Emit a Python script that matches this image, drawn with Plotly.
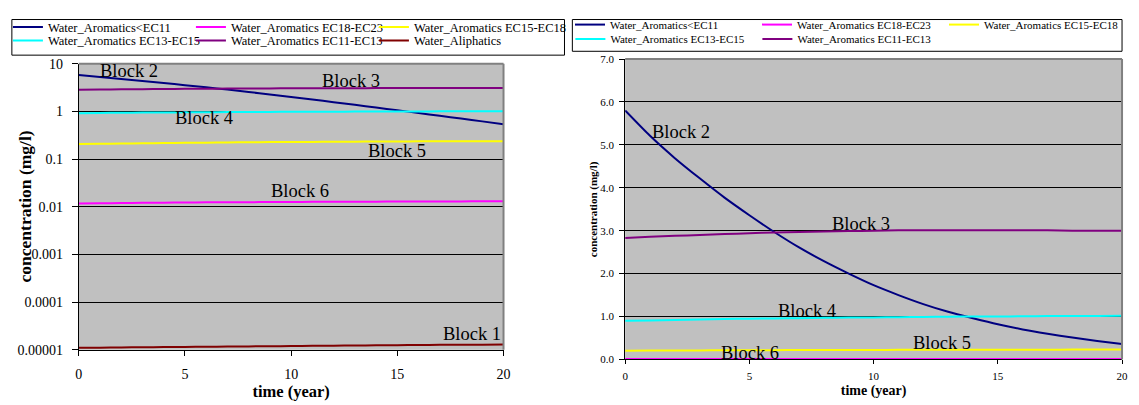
import math
import plotly.graph_objects as go

W, H = 1139, 405

years = list(range(0, 21))

series_names = [
    "Water_Aromatics<EC11",
    "Water_Aromatics EC18-EC23",
    "Water_Aromatics EC15-EC18",
    "Water_Aromatics EC13-EC15",
    "Water_Aromatics EC11-EC13",
    "Water_Aliphatics",
]
series_colors = ["#000080", "#FF00FF", "#FFFF00", "#00FFFF", "#800080", "#800000"]

# Left panel: concentrations on a log axis (mg/l)
left_lt_ec11 = [5.80, 5.27, 4.79, 4.35, 3.94, 3.57, 3.22, 2.88, 2.56, 2.28, 2.02,
                1.78, 1.57, 1.38, 1.21, 1.06, 0.93, 0.81, 0.71, 0.62, 0.54]
left_ec18_ec23 = [0.0118, 0.0119, 0.0120, 0.0121, 0.0122, 0.0123, 0.0124, 0.0124, 0.0125, 0.0126, 0.0126,
                  0.0127, 0.0127, 0.0128, 0.0128, 0.0129, 0.0129, 0.0130, 0.0130, 0.0131, 0.0131]
left_ec15_ec18 = [0.207, 0.210, 0.213, 0.215, 0.218, 0.220, 0.222, 0.224, 0.226, 0.228, 0.229,
                  0.230, 0.232, 0.233, 0.234, 0.235, 0.236, 0.236, 0.237, 0.237, 0.238]
left_ec13_ec15 = [0.92, 0.93, 0.94, 0.95, 0.955, 0.96, 0.965, 0.97, 0.975, 0.98, 0.985,
                  0.99, 0.99, 0.995, 1.0, 1.0, 1.0, 1.005, 1.005, 1.01, 1.01]
left_ec11_ec13 = [2.85, 2.88, 2.91, 2.94, 2.96, 2.98, 3.00, 3.02, 3.03, 3.05, 3.06,
                  3.07, 3.08, 3.08, 3.09, 3.09, 3.10, 3.10, 3.10, 3.10, 3.10]
left_aliphatics = [1.10e-5, 1.11e-5, 1.12e-5, 1.13e-5, 1.14e-5, 1.15e-5, 1.16e-5, 1.17e-5, 1.18e-5, 1.19e-5, 1.20e-5,
                   1.21e-5, 1.22e-5, 1.23e-5, 1.24e-5, 1.25e-5, 1.26e-5, 1.27e-5, 1.27e-5, 1.28e-5, 1.29e-5]

# Right panel: concentrations on a linear axis (mg/l)
right_lt_ec11 = [5.80, 5.21, 4.69, 4.22, 3.77, 3.36, 2.97, 2.61, 2.29, 2.00, 1.73,
                 1.50, 1.29, 1.11, 0.96, 0.82, 0.70, 0.60, 0.51, 0.43, 0.36]
right_ec18_ec23 = [0.0118, 0.0119, 0.0120, 0.0121, 0.0122, 0.0123, 0.0124, 0.0124, 0.0125, 0.0126, 0.0126,
                   0.0127, 0.0127, 0.0128, 0.0128, 0.0129, 0.0129, 0.0130, 0.0130, 0.0131, 0.0131]
right_ec15_ec18 = [0.205, 0.207, 0.209, 0.211, 0.213, 0.215, 0.217, 0.218, 0.220, 0.221, 0.222,
                   0.223, 0.224, 0.225, 0.226, 0.227, 0.228, 0.228, 0.229, 0.229, 0.230]
right_ec13_ec15 = [0.90, 0.91, 0.92, 0.93, 0.94, 0.95, 0.955, 0.96, 0.97, 0.975, 0.98,
                   0.985, 0.99, 0.995, 1.0, 1.0, 1.005, 1.01, 1.01, 1.015, 1.02]
right_ec11_ec13 = [2.83, 2.86, 2.88, 2.90, 2.92, 2.94, 2.96, 2.97, 2.98, 2.99, 3.00,
                   3.01, 3.01, 3.01, 3.01, 3.01, 3.01, 3.01, 3.00, 3.00, 3.00]

left_series = [left_lt_ec11, left_ec18_ec23, left_ec15_ec18, left_ec13_ec15, left_ec11_ec13, left_aliphatics]
right_series = [right_lt_ec11, right_ec18_ec23, right_ec15_ec18, right_ec13_ec15, right_ec11_ec13]

log_tick_values = [1e-5, 1e-4, 1e-3, 1e-2, 1e-1, 1, 10]
log_tick_labels = ["0.00001", "0.0001", "0.001", "0.01", "0.1", "1", "10"]
time_ticks = [0, 5, 10, 15, 20]

block_labels_left = ["Block 1", "Block 2", "Block 3", "Block 4", "Block 5", "Block 6"]
block_pos_left = [(18.5, 2.1e-5), (2.36, 6.9), (12.8, 4.3), (5.9, 0.72), (15.0, 0.148), (10.4, 0.021)]
block_labels_right = ["Block 2", "Block 3", "Block 4", "Block 5", "Block 6"]
block_pos_right = [(2.23, 5.30), (9.5, 3.16), (7.33, 1.13), (12.75, 0.38), (5.03, 0.16)]

SERIF = "Liberation Serif"


def px_x(p):
    return p / W


def px_y(p):
    return 1 - p / H


fig = go.Figure()

# left legend: two rows of three entries; the third column gets a wider slot
left_legends = ["legend", "legend", "legend", "legend2", "legend2", "legend2"]
left_slots = [138, 138, 165, 138, 138, 165]
for name, color, vals, lg, slot in zip(series_names, series_colors, left_series, left_legends, left_slots):
    fig.add_trace(go.Scatter(
        x=years, y=vals, name=name, mode="lines",
        line=dict(color=color, width=2, shape="spline", smoothing=0.6),
        xaxis="x", yaxis="y", legend=lg, legendwidth=slot,
    ))

right_legends = ["legend3", "legend3", "legend3", "legend4", "legend4"]
right_slots = [142, 142, 150, 142, 142]
for name, color, vals, lg, slot in zip(series_names[:5], series_colors[:5], right_series, right_legends, right_slots):
    fig.add_trace(go.Scatter(
        x=years, y=vals, name=name, mode="lines",
        line=dict(color=color, width=2, shape="spline", smoothing=0.6),
        xaxis="x2", yaxis="y2", legend=lg, legendwidth=slot,
    ))

annotations = []
for text, (xv, yv) in zip(block_labels_left, block_pos_left):
    annotations.append(dict(x=xv, y=math.log10(yv), xref="x", yref="y", text=text,
                            xanchor="center", yanchor="middle",
                            showarrow=False, font=dict(family=SERIF, size=18.5, color="black")))
for text, (xv, yv) in zip(block_labels_right, block_pos_right):
    annotations.append(dict(x=xv, y=yv, xref="x2", yref="y2", text=text,
                            xanchor="center", yanchor="middle",
                            showarrow=False, font=dict(family=SERIF, size=18.5, color="black")))

# vertical axis titles
annotations.append(dict(x=px_x(21), y=px_y(207.5), xref="paper", yref="paper",
                        xanchor="center", yanchor="middle",
                        text="concentration (mg/l)", textangle=-90, showarrow=False,
                        font=dict(family=SERIF, size=17.5, color="black", weight="bold")))
annotations.append(dict(x=px_x(599), y=px_y(210), xref="paper", yref="paper",
                        xanchor="center", yanchor="middle",
                        text="concentration (mg/l)", textangle=-90, showarrow=False,
                        font=dict(family=SERIF, size=11, color="black", weight="bold")))

shapes = []
# plot-area frame (top and right edges)
for xr, yr in (("x", "y"), ("x2", "y2")):
    shapes.append(dict(type="line", xref=f"{xr} domain", yref=f"{yr} domain",
                       x0=0, x1=1, y0=1, y1=1, line=dict(color="#808080", width=2)))
    shapes.append(dict(type="line", xref=f"{xr} domain", yref=f"{yr} domain",
                       x0=1, x1=1, y0=0, y1=1, line=dict(color="#808080", width=2)))
# legend boxes
shapes.append(dict(type="rect", xref="paper", yref="paper",
                   x0=px_x(8), x1=px_x(570), y0=px_y(50), y1=px_y(13),
                   line=dict(color="black", width=1), fillcolor="rgba(0,0,0,0)"))
shapes.append(dict(type="rect", xref="paper", yref="paper",
                   x0=px_x(578), x1=px_x(1137), y0=px_y(46), y1=px_y(13),
                   line=dict(color="black", width=1), fillcolor="rgba(0,0,0,0)"))


def legend_row(x_px, top_px, size):
    return dict(orientation="h", x=px_x(x_px), y=px_y(top_px), xanchor="left", yanchor="top",
                bgcolor="rgba(0,0,0,0)", borderwidth=0, entrywidthmode="pixels",
                font=dict(family=SERIF, size=size, color="black"), itemwidth=30,
                tracegroupgap=0)


tick_font_l = dict(family=SERIF, size=14, color="black")
tick_font_r = dict(family=SERIF, size=11, color="black")

fig.update_layout(
    width=W, height=H,
    margin=dict(l=0, r=0, t=0, b=0),
    paper_bgcolor="white",
    plot_bgcolor="#C0C0C0",
    showlegend=True,
    legend=legend_row(4, 5.5, 12.5),
    legend2=legend_row(4, 19.5, 12.5),
    legend3=legend_row(576, 3.2, 11),
    legend4=legend_row(576, 18.2, 11),
    xaxis=dict(domain=[px_x(76), px_x(508)], anchor="y", range=[0, 20],
               tickvals=time_ticks, ticks="outside", ticklen=5, tickcolor="black",
               showline=True, linecolor="black", linewidth=1, showgrid=False, zeroline=False,
               tickfont=tick_font_l, ticklabelstandoff=6,
               title=dict(text="time (year)", standoff=2,
                          font=dict(family=SERIF, size=16.5, color="black", weight="bold"))),
    yaxis=dict(domain=[px_y(356), px_y(59)], anchor="x", type="log", range=[-5, 1],
               tickvals=log_tick_values, ticktext=log_tick_labels,
               ticks="outside", ticklen=6, tickcolor="black",
               showline=True, linecolor="black", linewidth=1,
               showgrid=True, gridcolor="black", gridwidth=1, zeroline=False,
               tickfont=tick_font_l, ticklabelstandoff=6),
    xaxis2=dict(domain=[px_x(631.7), px_x(1137)], anchor="y2", range=[0, 20],
                tickvals=time_ticks, ticks="outside", ticklen=4, tickcolor="black",
                showline=True, linecolor="black", linewidth=1, showgrid=False, zeroline=False,
                tickfont=tick_font_r, ticklabelstandoff=2,
                title=dict(text="time (year)", standoff=4,
                           font=dict(family=SERIF, size=14, color="black", weight="bold"))),
    yaxis2=dict(domain=[px_y(366), px_y(54)], anchor="x2", range=[0, 7], dtick=1, tickformat=".1f",
                ticks="outside", ticklen=5, tickcolor="black",
                showline=True, linecolor="black", linewidth=1,
                showgrid=True, gridcolor="black", gridwidth=1, zeroline=False,
                tickfont=tick_font_r, ticklabelstandoff=3),
    annotations=annotations,
    shapes=shapes,
)

fig.write_html("out.html")
